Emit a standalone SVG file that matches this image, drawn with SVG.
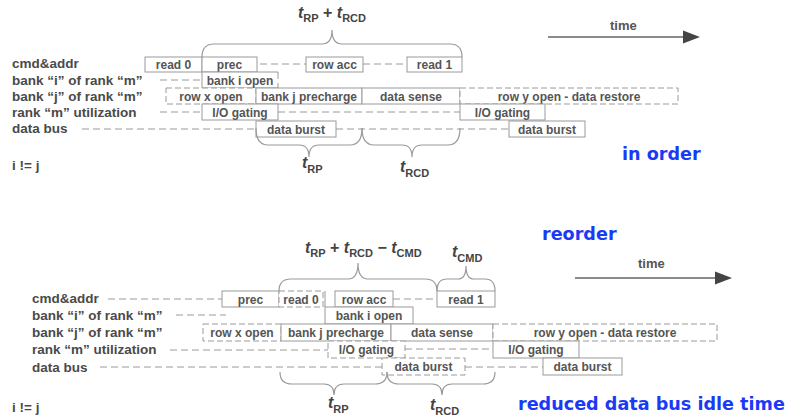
<svg xmlns="http://www.w3.org/2000/svg" width="790" height="416" viewBox="0 0 790 416">
<style>
.lbl{font:bold 13.5px "Liberation Sans",Arial,sans-serif;fill:#4a4a4a}
.bx{fill:#fff;stroke:#9a9a9a;stroke-width:1}
.bxd{fill:#fff;stroke:#9a9a9a;stroke-width:1;stroke-dasharray:6 3}
.bt{font:bold 12px "Liberation Sans",Arial,sans-serif;fill:#555;text-anchor:middle}
.dash{stroke:#9a9a9a;stroke-width:1;stroke-dasharray:7 4;fill:none}
.ln{stroke:#9a9a9a;stroke-width:1;fill:none}
.brace{fill:none;stroke:#9a9a9a;stroke-width:1.2}
.tl{font:bold 16px "Liberation Sans",Arial,sans-serif;fill:#444}
.tl .t{font-style:italic}
.tl .s{font-size:11px}
.blue{font:bold 17.6px "DejaVu Sans",Verdana,sans-serif;fill:#1a3af5}
.time{font:bold 13px "Liberation Sans",Arial,sans-serif;fill:#555}
.arr{stroke:#8a8a8a;stroke-width:2}
</style>
<rect width="790" height="416" fill="#fff"/>

<!-- ===== TOP: in order ===== -->
<g id="labels-top">
<text class="lbl" x="12" y="68">cmd&amp;addr</text>
<text class="lbl" x="12" y="85">bank “i” of rank “m”</text>
<text class="lbl" x="12" y="101">bank “j” of rank “m”</text>
<text class="lbl" x="12" y="117">rank “m” utilization</text>
<text class="lbl" x="12" y="133">data bus</text>
<text class="lbl" x="12" y="170">i != j</text>
</g>

<g id="connectors-top">
<line class="dash" x1="260" y1="64" x2="306" y2="64"/>
<line class="dash" x1="363" y1="64" x2="407" y2="64"/>
<line class="dash" x1="160" y1="80" x2="202" y2="80"/>
<line class="dash" x1="160" y1="112" x2="202" y2="112"/>
<line class="dash" x1="278" y1="112" x2="460" y2="112"/>
<line class="dash" x1="82" y1="129" x2="256" y2="129"/>
<line class="dash" x1="336" y1="129" x2="509" y2="129"/>
</g>

<g id="t-read0"><rect class="bx" x="145" y="57" width="57" height="15"/><text class="bt" x="173.5" y="69">read 0</text></g>
<g id="t-prec"><rect class="bx" x="202" y="57" width="55" height="15"/><text class="bt" x="229.5" y="69">prec</text></g>
<g id="t-rowacc"><rect class="bx" x="306" y="57" width="57" height="15"/><text class="bt" x="334.5" y="69">row acc</text></g>
<g id="t-read1"><rect class="bx" x="407" y="57" width="55" height="15"/><text class="bt" x="434.5" y="69">read 1</text></g>
<g id="t-bankiopen"><rect x="202" y="72" width="76" height="16" fill="#fff"/><path class="ln" d="M278,72 H202 V88 H278"/><line class="dash" x1="278" y1="72" x2="278" y2="88"/><text class="bt" x="240" y="84.5">bank i open</text></g>
<g id="t-rowxopen"><rect class="bxd" x="166" y="88" width="90" height="16"/><text class="bt" x="211" y="100.5">row x open</text></g>
<g id="t-bankjpre"><rect class="bx" x="256" y="88" width="106" height="16"/><text class="bt" x="309" y="100.5">bank j precharge</text></g>
<g id="t-datasense"><rect class="bx" x="362" y="88" width="98" height="16"/><text class="bt" x="411" y="100.5">data sense</text></g>
<g id="t-rowyopen"><rect class="bxd" x="460" y="88" width="218" height="16"/><text class="bt" x="569" y="100.5">row y open - data restore</text></g>
<g id="t-iogating1"><rect class="bx" x="202" y="104" width="76" height="16"/><text class="bt" x="240" y="116.5">I/O gating</text></g>
<g id="t-iogating2"><rect class="bx" x="460" y="104" width="85" height="16"/><text class="bt" x="502.5" y="116.5">I/O gating</text></g>
<g id="t-databurst1"><rect class="bx" x="256" y="121" width="80" height="16"/><text class="bt" x="296" y="133.5">data burst</text></g>
<g id="t-databurst2"><rect class="bx" x="509" y="121" width="76" height="16"/><text class="bt" x="547" y="133.5">data burst</text></g>

<g id="braces-top">
<path class="brace" d="M202,57 Q202,44 214,44 L322,44 Q332,44 332,30 Q332,44 342,44 L450,44 Q462,44 462,57"/>
<path class="brace" d="M256,128 Q256,145 268,145 L299,145 Q309,145 309,157 Q309,145 319,145 L350,145 Q362,145 362,128"/>
<path class="brace" d="M362,128 Q362,145 374,145 L402,145 Q412,145 412,157 Q412,145 422,145 L448,145 Q460,145 460,128"/>
</g>
<text class="tl" x="298" y="18"><tspan class="t">t</tspan><tspan class="s" dy="4">RP</tspan><tspan dy="-4"> + </tspan><tspan class="t">t</tspan><tspan class="s" dy="4">RCD</tspan></text>
<text class="tl" x="302" y="168"><tspan class="t">t</tspan><tspan class="s" dy="5">RP</tspan></text>
<text class="tl" x="400" y="172"><tspan class="t">t</tspan><tspan class="s" dy="5">RCD</tspan></text>

<g id="time-top">
<line class="arr" x1="548" y1="37" x2="686" y2="37"/>
<polygon points="683,30.5 700,37 683,43.5" fill="#444"/>
<text class="time" x="610" y="30">time</text>
</g>
<text class="blue" x="622" y="160">in order</text>

<!-- ===== BOTTOM: reorder ===== -->
<text class="blue" x="542" y="240">reorder</text>
<g id="labels-bottom">
<text class="lbl" x="32" y="303">cmd&amp;addr</text>
<text class="lbl" x="32" y="320">bank “i” of rank “m”</text>
<text class="lbl" x="32" y="337">bank “j” of rank “m”</text>
<text class="lbl" x="32" y="354">rank “m” utilization</text>
<text class="lbl" x="32" y="372">data bus</text>
<text class="lbl" x="12" y="412">i != j</text>
</g>

<g id="connectors-bottom">
<line class="dash" x1="108" y1="299" x2="222" y2="299"/>
<line class="dash" x1="393" y1="299" x2="437" y2="299"/>
<line class="dash" x1="176" y1="315" x2="226" y2="315"/>
<line class="dash" x1="170" y1="350" x2="328" y2="350"/>
<line class="dash" x1="405" y1="349" x2="493" y2="349"/>
<line class="dash" x1="100" y1="367" x2="382" y2="367"/>
<line class="dash" x1="465" y1="367" x2="543" y2="367"/>
</g>

<g id="b-prec"><rect class="bx" x="222" y="291" width="57" height="16"/><text class="bt" x="250.5" y="303.5">prec</text></g>
<g id="b-read0"><rect class="bxd" x="279" y="291" width="44" height="16"/><text class="bt" x="301" y="303.5">read 0</text></g>
<g id="b-rowacc"><rect class="bx" x="335" y="291" width="58" height="16"/><text class="bt" x="364" y="303.5">row acc</text></g>
<g id="b-read1"><rect class="bx" x="437" y="291" width="58" height="16"/><text class="bt" x="466" y="303.5">read 1</text></g>
<g id="b-bankiopen"><line class="ln" x1="325" y1="291" x2="325" y2="307"/><rect class="bx" x="325" y="307" width="88" height="17"/><text class="bt" x="369" y="320">bank i open</text></g>
<g id="b-rowxopen"><rect class="bxd" x="203" y="324" width="78" height="17"/><text class="bt" x="242" y="337">row x open</text></g>
<g id="b-bankjpre"><rect class="bx" x="281" y="324" width="110" height="17"/><text class="bt" x="336" y="337">bank j precharge</text></g>
<g id="b-datasense"><rect class="bx" x="391" y="324" width="102" height="17"/><text class="bt" x="442" y="337">data sense</text></g>
<g id="b-rowyopen"><rect class="bxd" x="493" y="324" width="224" height="17"/><text class="bt" x="605" y="337">row y open - data restore</text></g>
<g id="b-iogating1"><rect class="bxd" x="328" y="341" width="77" height="17"/><text class="bt" x="366.5" y="354">I/O gating</text></g>
<g id="b-iogating2"><rect class="bx" x="493" y="341" width="86" height="17"/><text class="bt" x="536" y="354">I/O gating</text></g>
<g id="b-databurst1"><rect class="bxd" x="382" y="358" width="83" height="17"/><text class="bt" x="423.5" y="371">data burst</text></g>
<g id="b-databurst2"><rect class="bx" x="543" y="358" width="79" height="17"/><text class="bt" x="582.5" y="371">data burst</text></g>

<g id="braces-bottom">
<path class="brace" d="M279,291 Q279,279 291,279 L348,279 Q358,279 358,263 Q358,279 368,279 L425,279 Q437,279 437,291"/>
<path class="brace" d="M437,291 Q437,279 447,279 L458,279 Q466,279 466,266 Q466,279 474,279 L485,279 Q495,279 495,291"/>
<path class="brace" d="M280,372 Q280,384 292,384 L324,384 Q334,384 334,395 Q334,384 344,384 L375,384 Q387,384 387,372"/>
<path class="brace" d="M387,372 Q387,384 399,384 L432,384 Q442,384 442,395 Q442,384 452,384 L483,384 Q495,384 495,372"/>
</g>
<text class="tl" x="305" y="253"><tspan class="t">t</tspan><tspan class="s" dy="4">RP</tspan><tspan dy="-4"> + </tspan><tspan class="t">t</tspan><tspan class="s" dy="4">RCD</tspan><tspan dy="-4"> − </tspan><tspan class="t">t</tspan><tspan class="s" dy="4">CMD</tspan></text>
<text class="tl" x="452" y="257"><tspan class="t">t</tspan><tspan class="s" dy="5">CMD</tspan></text>
<text class="tl" x="328" y="408"><tspan class="t">t</tspan><tspan class="s" dy="5">RP</tspan></text>
<text class="tl" x="430" y="410"><tspan class="t">t</tspan><tspan class="s" dy="5">RCD</tspan></text>

<g id="time-bottom">
<line class="arr" x1="575" y1="278" x2="718" y2="278"/>
<polygon points="715,271.5 732,278 715,284.5" fill="#444"/>
<text class="time" x="638" y="268">time</text>
</g>
<text class="blue" x="518" y="410">reduced data bus idle time</text>
</svg>
